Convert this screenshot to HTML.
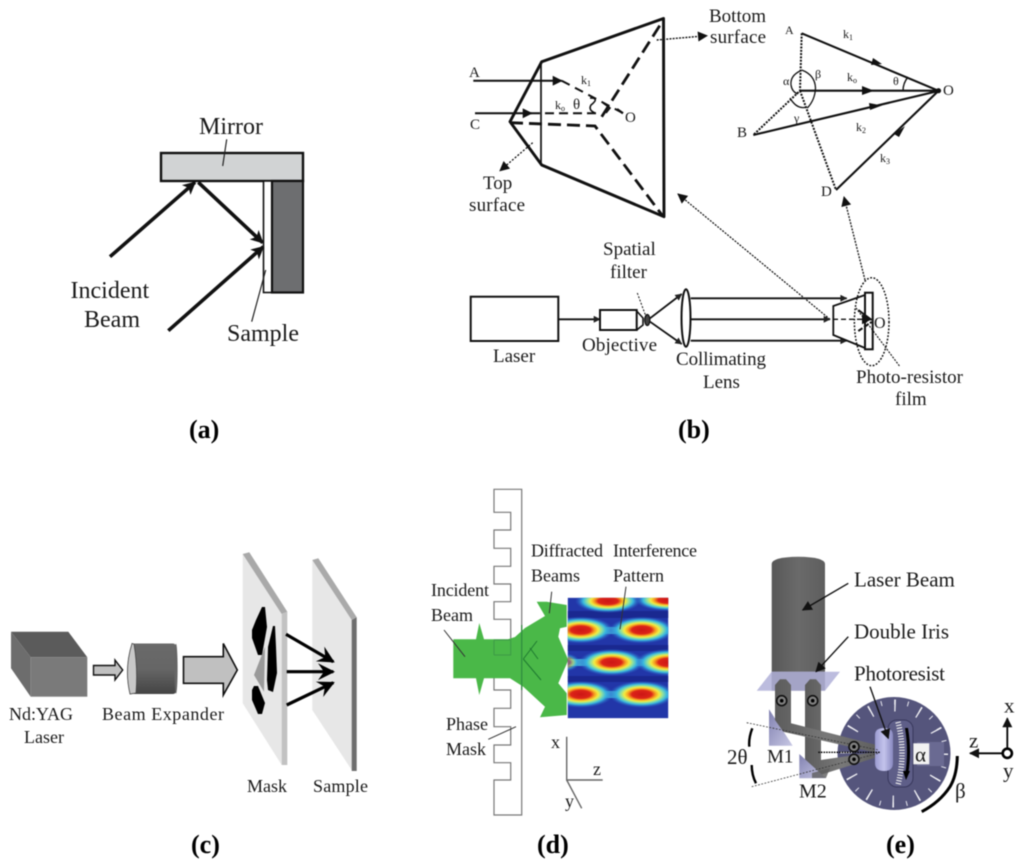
<!DOCTYPE html>
<html><head><meta charset="utf-8">
<style>
html,body{margin:0;padding:0;background:#fff;width:1024px;height:867px;overflow:hidden}
svg{display:block;filter:blur(.4px)}
text{font-family:"Liberation Serif",serif;fill:#1a1a1a}
.l{font-weight:bold;font-size:26px;fill:#000}
.a{font-size:24px}
.b{font-size:19px}
.s{font-size:12px}
.m{font-size:15px}
.c{font-size:18px}
.e{font-size:21px}
</style></head><body>
<svg width="1024" height="867" viewBox="0 0 1024 867" xmlns="http://www.w3.org/2000/svg">
<defs>
<marker id="h" viewBox="0 0 10 10" refX="9" refY="5" markerWidth="19" markerHeight="13" markerUnits="userSpaceOnUse" orient="auto"><path d="M0 0L10 5L0 10L2.5 5z" fill="#111"/></marker>
<marker id="hb" viewBox="0 0 10 10" refX="9" refY="5" markerWidth="24" markerHeight="17" markerUnits="userSpaceOnUse" orient="auto"><path d="M0 0L10 5L0 10L3.5 5z" fill="#000"/></marker>
<marker id="t" viewBox="0 0 10 10" refX="9" refY="5" markerWidth="9" markerHeight="7" markerUnits="userSpaceOnUse" orient="auto"><path d="M0 0L10 5L0 10z" fill="#222"/></marker>
<marker id="d" viewBox="0 0 10 10" refX="9" refY="5" markerWidth="11" markerHeight="10" markerUnits="userSpaceOnUse" orient="auto"><path d="M0 0L10 5L0 10z" fill="#111"/></marker>
<radialGradient id="hot"><stop offset="0" stop-color="#cc1616"/><stop offset=".3" stop-color="#dc2418"/><stop offset=".42" stop-color="#f6a020"/><stop offset=".53" stop-color="#f4ec40"/><stop offset=".64" stop-color="#8fe0a0"/><stop offset=".76" stop-color="#38b8e0"/><stop offset="1" stop-color="#2a58c8" stop-opacity="0"/></radialGradient>
<linearGradient id="cyl" x1="0" x2="1" y1="0" y2="0"><stop offset="0" stop-color="#585858"/><stop offset=".5" stop-color="#6a6a6a"/><stop offset="1" stop-color="#5e5e5e"/></linearGradient>
<linearGradient id="tube" x1="0" x2="1" y1="0" y2="0"><stop offset="0" stop-color="#5c5c5c"/><stop offset=".5" stop-color="#797979"/><stop offset="1" stop-color="#5e5e5e"/></linearGradient>
<linearGradient id="mir" x1="0" x2="1" y1="0" y2="1"><stop offset="0" stop-color="#8080b0"/><stop offset="1" stop-color="#c8c8e4"/></linearGradient>
<linearGradient id="pr" x1="0" x2="1" y1="0" y2="0"><stop offset="0" stop-color="#9a9ad0"/><stop offset=".5" stop-color="#c4c4ec"/><stop offset="1" stop-color="#8888c0"/></linearGradient>
<linearGradient id="be" x1="0" x2="0" y1="0" y2="1"><stop offset="0" stop-color="#6a6a6a"/><stop offset=".5" stop-color="#666"/><stop offset="1" stop-color="#444"/></linearGradient>
<clipPath id="hm"><rect x="567.7" y="597.7" width="100.6" height="120.6"/></clipPath>
</defs>

<!-- (a) -->
<rect x="161" y="153" width="142" height="28" fill="#d1d3d4" stroke="#111" stroke-width="2.4"/>
<rect x="263.5" y="181" width="8.5" height="111.5" fill="#fff" stroke="#111" stroke-width="1.6"/>
<rect x="272" y="181" width="31" height="111.5" fill="#6d6e70" stroke="#111" stroke-width="2.2"/>
<g stroke="#111" stroke-width="3.6" fill="none">
<line x1="110" y1="256.7" x2="195" y2="182.3" marker-end="url(#h)"/>
<line x1="198.3" y1="182.3" x2="262.7" y2="242.7" marker-end="url(#h)"/>
<line x1="168.3" y1="330.7" x2="263.3" y2="246.7" marker-end="url(#h)"/>
</g>
<line x1="226.7" y1="139.3" x2="222.7" y2="166" stroke="#222" stroke-width="1.2"/>
<line x1="265.7" y1="270" x2="251.7" y2="321.7" stroke="#222" stroke-width="1.2"/>
<text class="a" x="199" y="134">Mirror</text>
<text class="a" x="70.5" y="298">Incident</text>
<text class="a" x="84" y="327">Beam</text>
<text class="a" x="227" y="341">Sample</text>
<text class="l" x="189" y="438">(a)</text>

<!-- (b) frustum -->
<g fill="none" stroke="#111">
<path d="M663.5 18.5L541.7 61.7L510 121.7L541.7 165L664 216.7Z" stroke-width="2.9" stroke-linejoin="round"/>
<line x1="541" y1="63" x2="541" y2="165" stroke-width="1.7"/>
<line x1="473.3" y1="80.7" x2="561.7" y2="80.7" stroke-width="2" marker-end="url(#d)"/>
<line x1="475" y1="113.3" x2="531.7" y2="113.3" stroke-width="2" marker-end="url(#d)"/>
<path d="M561.7 80.7L623.3 113.3" stroke-width="2" stroke-dasharray="9 6"/>
<path d="M531 113.3H597" stroke-width="2" stroke-dasharray="9 5"/>
<path d="M510 122.7L595 126L663.3 216.7" stroke-width="2.8" stroke-dasharray="13 6"/>
<path d="M601.7 116.7L663.3 20" stroke-width="2.8" stroke-dasharray="13 6"/>
<path d="M590 98Q600 98 591 105Q588 110 595 113" stroke-width="1.6"/>
<path d="M603 103L610 108L606 113" stroke-width="1.6"/>
<line x1="617" y1="109" x2="623" y2="113.3" stroke-width="2.2"/>
<line x1="656.7" y1="40" x2="707" y2="35.7" stroke-width="1.4" stroke-dasharray="2 1.2" marker-end="url(#d)"/>
<line x1="532.7" y1="142.7" x2="500" y2="170.7" stroke-width="1.3" stroke-dasharray="2 1.6" marker-end="url(#d)"/>
<line x1="830" y1="319.3" x2="678" y2="194" stroke-width="1.2" stroke-dasharray="2 1.2" marker-end="url(#d)"/>
<line x1="856" y1="308" x2="900" y2="366.7" stroke-width="1.1" stroke-dasharray="2 1.2"/>
</g>
<text class="m" x="469" y="77">A</text><text class="m" x="470" y="129">C</text><text class="m" x="625" y="122">O</text>
<text class="s" x="581" y="84">k<tspan font-size="8" dy="2">1</tspan></text>
<text class="s" x="555" y="109">k<tspan font-size="8" dy="2">o</tspan></text>
<text class="m" x="573" y="109">θ</text>
<text class="b" x="483" y="189">Top</text>
<text class="b" x="469" y="211" textLength="56">surface</text>
<text class="b" x="709" y="22" textLength="57">Bottom</text>
<text class="b" x="710" y="43" textLength="56">surface</text>

<!-- (b) k diagram -->
<g fill="none" stroke="#111">
<path d="M801.7 33.3L938.3 90.7M800 90.7H938.3M753.3 135L938.3 91M836 190L938.3 91" stroke-width="2.1"/>
<path d="M801.7 33.3L800 90.7L753.3 135M800 90.7L836 190" stroke-width="2" stroke-dasharray="2 1.3"/>
<path d="M801.7 70Q815 75 815.5 88Q815 100 807.3 108" stroke-width="1.3"/>
<path d="M800 71Q790 76 791 85Q792 92 798 94" stroke-width="1.3"/>
<path d="M790 98Q797 110 807 107" stroke-width="1.3"/>
<path d="M908 77Q903 83 903 91" stroke-width="1.4"/>
</g>
<circle cx="938.5" cy="90.7" r="2.6" fill="#111"/>
<g fill="#111"><path d="M882 64L871 65L873 58z"/><path d="M874 90.7L862 86V95z"/><path d="M882 105.5L870 110L869 103z"/><path d="M905 126L894 134L899 137z"/></g>
<text class="s" x="785" y="34">A</text>
<text class="m" x="737" y="137">B</text>
<text class="m" x="821" y="196">D</text>
<text class="m" x="943" y="95">O</text>
<text class="s" x="843" y="38">k<tspan font-size="8" dy="2">1</tspan></text>
<text class="s" x="847" y="81">k<tspan font-size="8" dy="2">o</tspan></text>
<text class="s" x="856" y="131">k<tspan font-size="8" dy="2">2</tspan></text>
<text class="s" x="880" y="162">k<tspan font-size="8" dy="2">3</tspan></text>
<text class="s" x="783" y="85">α</text>
<text class="s" x="815" y="78">β</text>
<text class="s" x="794" y="122">γ</text>
<text class="s" x="893" y="85">θ</text>
<line x1="865" y1="280" x2="844" y2="197" stroke="#222" stroke-width="1.4" stroke-dasharray="2 1.2" marker-end="url(#d)"/>

<!-- (b) bench -->
<g fill="none" stroke="#111">
<rect x="470.7" y="296.7" width="87.6" height="44.3" stroke-width="2"/>
<line x1="558.3" y1="319.3" x2="600" y2="319.3" stroke-width="1.8" marker-end="url(#t)"/>
<rect x="600" y="310" width="36.7" height="20" stroke-width="2"/>
<path d="M636.7 311L643 318V325L636.7 330" stroke-width="1.6"/>
<ellipse cx="647.3" cy="320" rx="2.6" ry="5.5" fill="#444" stroke-width="1.2"/>
<line x1="650" y1="318.3" x2="681.7" y2="294" stroke-width="1.8" marker-end="url(#t)"/>
<line x1="650" y1="321.7" x2="681.7" y2="344" stroke-width="1.8" marker-end="url(#t)"/>
<ellipse cx="686" cy="318" rx="4.5" ry="28.7" stroke-width="2"/>
<line x1="690.7" y1="298.3" x2="846.7" y2="298.3" stroke-width="1.8" marker-end="url(#t)"/>
<line x1="690.7" y1="319.3" x2="830" y2="319.3" stroke-width="1.8" marker-end="url(#t)"/>
<line x1="690.7" y1="340.7" x2="846.7" y2="340.7" stroke-width="1.8" marker-end="url(#t)"/>
<path d="M865 295L833.3 306V335L865 348" stroke-width="1.8"/>
<rect x="865" y="292.7" width="7.7" height="56.6" stroke-width="2"/>
<line x1="833" y1="319.3" x2="871" y2="319.3" stroke-width="1.3" stroke-dasharray="5 3" marker-end="url(#d)"/>
<line x1="858.3" y1="310" x2="871.7" y2="320" stroke-width="2"/>
<line x1="858.3" y1="331" x2="871.7" y2="322" stroke-width="2" stroke-dasharray="5 2"/>
<ellipse cx="871.7" cy="321.7" rx="17.3" ry="44" stroke-width="1.5" stroke-dasharray="1.8 1.6"/>
<line x1="637.3" y1="293" x2="646" y2="316.7" stroke-width="1" stroke-dasharray="2 1.5"/>
</g>
<text class="b" x="874" y="328" style="font-size:16px">O</text>
<text class="b" x="603" y="255">Spatial</text>
<text class="b" x="610" y="278">filter</text>
<text class="b" x="493" y="362">Laser</text>
<text class="b" x="582" y="351" textLength="75">Objective</text>
<text class="b" x="676" y="365" textLength="90">Collimating</text>
<text class="b" x="703" y="388">Lens</text>
<text class="b" x="856" y="383" textLength="107">Photo-resistor</text>
<text class="b" x="895" y="405">film</text>
<text class="l" x="678" y="438">(b)</text>

<!-- (c) -->
<polygon points="11,631.7 68.3,631.7 87.3,657.3 30.7,657.3" fill="#5b5b5b"/>
<polygon points="11,631.7 30.7,657.3 30.7,696.7 11,668.3" fill="#6d6d6d"/>
<rect x="30.7" y="657.3" width="56.6" height="39.4" fill="#7a7a7a"/>
<polygon points="93.5,665.5 115,665.5 115,660 122.7,670 115,680 115,675 93.5,675" fill="#c0c0c0" stroke="#111" stroke-width="1.4"/>
<rect x="132" y="643.5" width="44" height="50.5" rx="3" fill="url(#be)"/>
<ellipse cx="176" cy="668.7" rx="1.6" ry="25" fill="#666"/>
<path d="M132 643.5Q124 668.7 130 694L136 693Q138 668 134 644z" fill="#c8c8c8" stroke="#444" stroke-width=".8"/>
<polygon points="183.5,656.7 223.3,656.7 223.3,643.5 237.3,670 223.3,695 223.3,683.3 183.5,683.3" fill="#c0c0c0" stroke="#111" stroke-width="1.6"/>
<polygon points="242.7,554 281.7,613.3 281.7,765 242.7,703.3" fill="#e7e7e7"/>
<polygon points="242.7,554 249.3,552.3 287.3,611.7 281.7,614" fill="#a9a9a9"/>
<polygon points="281.7,614 287.3,611.7 287.3,765 281.7,765" fill="#c2c2c2"/>
<polygon points="312.3,560 351.7,620 351.7,770 312.3,710" fill="#e7e7e7"/>
<polygon points="312.3,560 318.3,558.3 356.7,617.3 351.7,620" fill="#aaa"/>
<polygon points="351.7,620 356.7,617.3 356.7,771 351.7,771" fill="#6e6e6e"/>
<polygon points="262,607 265,607 267,627 262,655 258,655 252,638 252,630 256,620" fill="#000"/>
<polygon points="273,626 275,626 276,647 277,673 273,692 268,690 267,680 268,647" fill="#000"/>
<polygon points="254,686 258,686 265,703 262,714 258,714 252,700 252,690" fill="#000"/>
<polygon points="265,646.7 254,675 264,691.7" fill="#9a9a9a"/>
<g stroke="#000" stroke-width="3.2">
<line x1="286" y1="634.3" x2="333.3" y2="661.7" marker-end="url(#hb)"/>
<line x1="286.7" y1="671.7" x2="333.3" y2="671.7" marker-end="url(#hb)"/>
<line x1="286.7" y1="705" x2="333.3" y2="682.7" marker-end="url(#hb)"/>
</g>
<text class="c" x="9" y="720">Nd:YAG</text>
<text class="c" x="24" y="743">Laser</text>
<text class="c" x="102" y="720" textLength="122">Beam Expander</text>
<text class="c" x="247" y="792">Mask</text>
<text class="c" x="313" y="792" textLength="55">Sample</text>
<text class="l" x="191" y="853">(c)</text>

<!-- (d) -->
<path d="M494 489.3H521.7V815H494V780H510.7V762.7H494V745H510.7V726.7H494V708.3H510.7V690H494V671.7H510.7V655H494V640H510.7V619.3H494V601.7H510.7V584H494V566.3H510.7V548.3H494V530H510.7V512.3H494Z" fill="#fff" stroke="#777" stroke-width="1.2"/>
<polygon points="453.3,639.3 508,639.3 515,637 525,628 545,616 536.7,601.7 546.7,601.7 566.7,605 566.7,626.7 560,628.3 558.3,636.7 568.3,660 558.3,683.3 566.7,693.3 566.7,715 540,717.3 545,706.7 523.3,686.7 510,678.3 453.3,678.3" fill="#4ab848"/>
<polygon points="479.3,623 484,639.3 484,678.3 479.3,695 476,678.3 476,639.3" fill="#4ab848"/>
<path d="M523.3 659L537 641M523.3 659L541 680M530 648L538 659" stroke="#1e7a30" stroke-width="1" fill="none"/>
<path d="M494 640H510.7V655H494M494 655V640" stroke="#3c9a46" fill="none"/>
<line x1="521.7" y1="625" x2="521.7" y2="690" stroke="#2e8a3e" stroke-width="1.2"/>
<g clip-path="url(#hm)">
<rect x="567.7" y="597.7" width="100.6" height="120.6" fill="#2236a8"/>
<rect x="567.7" y="627" width="100.6" height="7" fill="#3fa8d8"/>
<rect x="567.7" y="659" width="100.6" height="7" fill="#3fa8d8"/>
<rect x="567.7" y="691" width="100.6" height="7" fill="#3fa8d8"/>
<rect x="567.7" y="611" width="100.6" height="7" fill="#1a2890"/>
<rect x="567.7" y="645" width="100.6" height="6" fill="#1a2890"/>
<rect x="567.7" y="676" width="100.6" height="6" fill="#1a2890"/>
<ellipse cx="608" cy="601" rx="33" ry="12" fill="url(#hot)"/>
<ellipse cx="668" cy="600" rx="33" ry="11" fill="url(#hot)"/>
<ellipse cx="580.7" cy="630" rx="33" ry="13.5" fill="url(#hot)"/>
<ellipse cx="641.7" cy="630" rx="33" ry="13.5" fill="url(#hot)"/>
<ellipse cx="611.7" cy="662.3" rx="33" ry="13.5" fill="url(#hot)"/>
<ellipse cx="668.3" cy="662.3" rx="33" ry="13.5" fill="url(#hot)"/>
<ellipse cx="566" cy="662.3" rx="14" ry="9" fill="url(#hot)" opacity=".5"/>
<ellipse cx="580.7" cy="694.3" rx="33" ry="13.5" fill="url(#hot)"/>
<ellipse cx="641.7" cy="694.3" rx="33" ry="13.5" fill="url(#hot)"/>
</g>
<g stroke="#333" stroke-width="1" fill="none">
<line x1="551.7" y1="591.7" x2="549.3" y2="613.3"/>
<line x1="626" y1="586.7" x2="620" y2="629.3"/>
<line x1="444" y1="630" x2="465" y2="656.7"/>
<line x1="488.3" y1="739.3" x2="516" y2="726.7"/>
</g>
<g stroke="#666" stroke-width="1.4" fill="none">
<path d="M566.7 736.7V780H602.7M566.7 780L581.7 808.3"/>
</g>
<text class="c" x="531" y="556.7" textLength="72">Diffracted</text>
<text class="c" x="531" y="581.7">Beams</text>
<text class="c" x="613" y="556.7" textLength="84">Interference</text>
<text class="c" x="613" y="581.7">Pattern</text>
<text class="c" x="431" y="596" textLength="58">Incident</text>
<text class="c" x="431" y="621">Beam</text>
<text class="c" x="446" y="730">Phase</text>
<text class="c" x="446" y="755">Mask</text>
<text class="c" x="551" y="748">x</text>
<text class="c" x="593" y="775">z</text>
<text class="c" x="565" y="807">y</text>
<text class="l" x="537" y="853">(d)</text>

<!-- (e) -->
<path d="M771.7 564Q771.7 557 798.3 556.7Q825 557 825 564V675H771.7Z" fill="url(#cyl)"/>
<polygon points="771.7,671.7 840,671.7 825,690.7 756.7,690.7" fill="#bcbcde"/>
<rect x="771.7" y="671.7" width="53.3" height="19" fill="#a4a4c6"/>
<circle cx="894" cy="753.5" r="56.5" fill="#55557c"/>
<circle cx="894" cy="753.5" r="51.5" fill="none" stroke="#e8e8f0" stroke-width="5" stroke-dasharray="1 12.48"/>
<circle cx="894" cy="753.5" r="48" fill="none" stroke="#f0f0f4" stroke-width="12" stroke-dasharray="1.4 23.73"/>
<rect x="917" y="742" width="27" height="24" fill="#6a6a92"/>
<polygon points="805,685 810,679.3 816,679.3 821,685 821,760 876.7,751.7 878.3,756.7 820,775 805,770" fill="url(#tube)"/>
<polygon points="769,709.3 769,745.7 792.7,745.7" fill="url(#mir)"/>
<polygon points="775,685 780,679.3 786,679.3 791,685 791,723.3 876.7,745 878.3,753.3 783.3,731.7 775,720" fill="url(#tube)"/>
<polygon points="799.3,754 799.3,778.3 826,778.3" fill="url(#mir)"/>
<polygon points="812,773 830,768 826,778 812,778" fill="#5e5e5e" opacity=".8"/>
<rect x="888" y="720" width="25" height="67" rx="9" fill="#5e5e88" stroke="#38385c" stroke-width="1"/>
<path d="M898 722Q906 753 898 785" fill="none" stroke="#f0f0f0" stroke-width="5.5" stroke-dasharray="1.1 1.7"/>
<path d="M884 728Q875 728 875 735V763Q875 771 884 771Q893 771 893 763V735Q893 728 884 728Z" fill="url(#pr)"/>
<rect x="913.3" y="743.3" width="16" height="21" fill="#f2f2f2"/>
<path d="M905 728Q909 752 905 775L908 775Q912 752 908 728Z" fill="#000"/>
<path d="M903 771L910 771L906 780Z" fill="#000"/>
<g fill="none" stroke="#000">
<path d="M957.3 756Q957 775 950 786.7Q940 802 921.7 811.7" stroke-width="3"/>
<path d="M752.3 728.3Q748.5 738 749.3 746.7M751.7 765Q751.7 775 756 783.3" stroke-width="2.4"/>
<path d="M746.7 722.7L878.3 750M751.7 786.7L878.3 753.3" stroke="#333" stroke-width=".8" stroke-dasharray="1.8 1.5"/>
<path d="M818.3 752.3H880" stroke-width="1.4" stroke-dasharray="1.6 1"/>
</g>
<g fill="#808080" stroke="#111" stroke-width="1.6">
<circle cx="781.7" cy="700.7" r="5"/><circle cx="812.7" cy="700.7" r="5"/><circle cx="854" cy="746.7" r="5"/><circle cx="854" cy="759.3" r="5"/>
</g>
<g fill="#000"><circle cx="781.7" cy="700.7" r="1.8"/><circle cx="812.7" cy="700.7" r="1.8"/><circle cx="854" cy="746.7" r="1.8"/><circle cx="854" cy="759.3" r="1.8"/></g>
<g stroke="#111" stroke-width="1.4">
<line x1="848.3" y1="583.3" x2="802.7" y2="610" marker-end="url(#d)"/>
<line x1="848.3" y1="636.7" x2="816" y2="671.7" marker-end="url(#d)"/>
<line x1="870" y1="686.7" x2="888.3" y2="738.3" marker-end="url(#d)"/>
</g>
<g stroke="#000" stroke-width="1.8" fill="none">
<line x1="1007.3" y1="748" x2="1007.3" y2="718.3" marker-end="url(#d)"/>
<line x1="1002" y1="753.3" x2="970" y2="753.3" marker-end="url(#d)"/>
<circle cx="1007.3" cy="753.3" r="4.6" fill="#fff" stroke-width="2.6"/>
</g>
<text class="e" x="854" y="586.7">Laser Beam</text>
<text class="e" x="854" y="638.3">Double Iris</text>
<text class="e" x="854" y="680.7" textLength="91">Photoresist</text>
<text x="767" y="762.7" style="font-size:19px">M1</text>
<text x="799" y="797.3" style="font-size:20px">M2</text>
<text class="e" x="727" y="764">2θ</text>
<text class="e" x="915" y="761.7">α</text>
<text class="e" x="955" y="798">β</text>
<text class="e" x="1004" y="712.7">x</text>
<text class="e" x="969" y="747.3">z</text>
<text class="e" x="1003" y="777.3">y</text>
<text class="l" x="886" y="853">(e)</text>
</svg>
</body></html>
